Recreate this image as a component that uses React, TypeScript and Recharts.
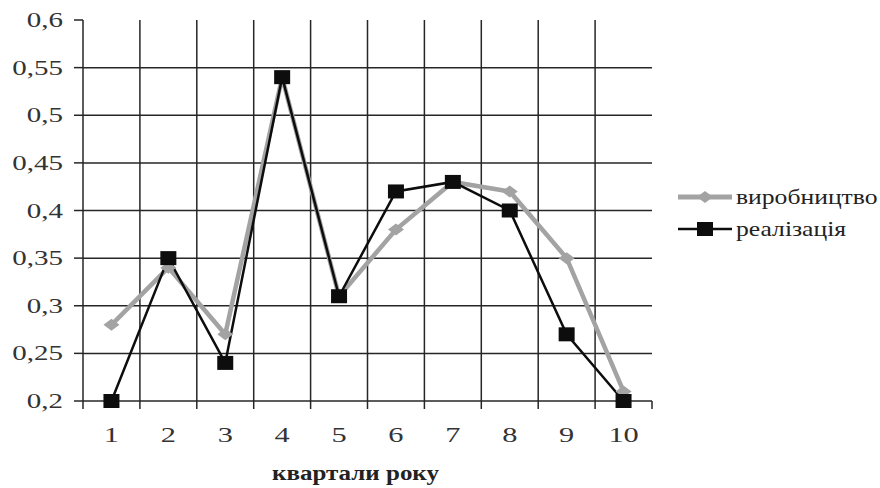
import { CartesianGrid, Legend, Line, LineChart, XAxis, YAxis } from 'recharts';

const quarters = [1, 2, 3, 4, 5, 6, 7, 8, 9, 10];
const vyrobnytstvo = [0.28, 0.34, 0.27, 0.54, 0.31, 0.38, 0.43, 0.42, 0.35, 0.21];
const realizatsiia = [0.2, 0.35, 0.24, 0.54, 0.31, 0.42, 0.43, 0.4, 0.27, 0.2];
const quarterBounds = [0.5, 1.5, 2.5, 3.5, 4.5, 5.5, 6.5, 7.5, 8.5, 9.5, 10.5];
const yTicks = [0.2, 0.25, 0.3, 0.35, 0.4, 0.45, 0.5, 0.55, 0.6];
const gridY = [0.25, 0.3, 0.35, 0.4, 0.45, 0.5, 0.55];
const gridX = [1.5, 2.5, 3.5, 4.5, 5.5, 6.5, 7.5, 8.5, 9.5];
const seriesNames = ['виробництво', 'реалізація'];
const axisTitle = 'квартали року';

const GRAY = '#a3a3a3';
const BLACK = '#0d0d0d';
const INK = '#262626';
const FONT = '"Liberation Serif", "Times New Roman", serif';

const data = quarters.map((q, i) => ({ q, vyr: vyrobnytstvo[i], real: realizatsiia[i] }));
const xTicks = [...quarterBounds, ...quarters].sort((a, b) => a - b);

// half-step ticks are the little marks under the axis, whole ones carry the labels
const XTick = ({ x, y, payload }: any) => {
  const v = payload.value;
  if (quarterBounds.includes(v)) {
    return <line x1={x} x2={x} y1={y} y2={y + 8} stroke={INK} strokeWidth={1.5} />;
  }
  return (
    <text
      transform={`translate(${x},${y + 41}) scale(1.38,1)`}
      textAnchor="middle"
      fontFamily={FONT}
      fontSize={22}
      fill="#333"
    >
      {v}
    </text>
  );
};

const YTick = ({ x, y, payload }: any) => (
  <text
    transform={`translate(${x},${y + 7}) scale(1.38,1)`}
    textAnchor="end"
    fontFamily={FONT}
    fontSize={21}
    fill="#333"
  >
    {String(payload.value).replace('.', ',')}
  </text>
);

const Diamond = ({ cx, cy }: any) => (
  <polygon
    points={`${cx - 8},${cy} ${cx},${cy - 6} ${cx + 8},${cy} ${cx},${cy + 6}`}
    fill={GRAY}
  />
);

const Square = ({ cx, cy }: any) => <rect x={cx - 8} y={cy - 7} width={16} height={14} fill={BLACK} />;

const AxisTitle = ({ viewBox }: any) => (
  <text
    transform={`translate(${viewBox.x + viewBox.width / 2 - 12},${viewBox.y + 79}) scale(1.25,1)`}
    textAnchor="middle"
    fontFamily={FONT}
    fontSize={20}
    fontWeight="bold"
    fill="#222"
  >
    {axisTitle}
  </text>
);

const LegendBox = () => (
  <div style={{ fontFamily: FONT, fontSize: 21, color: '#222' }}>
    {seriesNames.map((name, i) => (
      <div key={name} style={{ display: 'flex', alignItems: 'center', height: 32 }}>
        <svg width={56} height={20} style={{ flexShrink: 0 }}>
          {i === 0 ? (
            <>
              <line x1={0} x2={54} y1={10} y2={10} stroke={GRAY} strokeWidth={5} />
              <polygon points="19,10 27,4 35,10 27,16" fill={GRAY} />
            </>
          ) : (
            <>
              <line x1={0} x2={54} y1={10} y2={10} stroke={BLACK} strokeWidth={2.5} />
              <rect x={19} y={3} width={16} height={14} fill={BLACK} />
            </>
          )}
        </svg>
        <span style={{ display: 'inline-block', transform: 'scaleX(1.22)', transformOrigin: 'left center', marginLeft: 2 }}>
          {name}
        </span>
      </div>
    ))}
  </div>
);

export default function App() {
  return (
    <div style={{ position: 'absolute', left: 0, top: 0, width: 880, height: 488, background: '#fff' }}>
      <LineChart width={880} height={488} data={data} margin={{ top: 20, right: 228, bottom: 7, left: 0 }}>
        <CartesianGrid
          horizontalValues={gridY}
          verticalValues={gridX}
          stroke={INK}
          strokeWidth={1.5}
        />
        <XAxis
          dataKey="q"
          type="number"
          domain={[0.5, 10.5]}
          ticks={xTicks}
          interval={0}
          height={80}
          tickSize={0}
          tickMargin={0}
          tickLine={false}
          axisLine={{ stroke: INK, strokeWidth: 1.5 }}
          tick={<XTick />}
          label={<AxisTitle />}
        />
        <YAxis
          domain={[0.2, 0.6]}
          ticks={yTicks}
          interval={0}
          width={83}
          tickSize={9}
          tickMargin={11}
          tickLine={{ stroke: INK, strokeWidth: 1.5 }}
          axisLine={{ stroke: INK, strokeWidth: 1.5 }}
          tick={<YTick />}
        />
        <Legend
          layout="vertical"
          align="center"
          verticalAlign="middle"
          wrapperStyle={{ left: 678, top: 181, width: 200 }}
          content={<LegendBox />}
        />
        <Line
          dataKey="vyr"
          name={seriesNames[0]}
          stroke={GRAY}
          strokeWidth={4.5}
          dot={<Diamond />}
          activeDot={false}
          isAnimationActive={false}
        />
        <Line
          dataKey="real"
          name={seriesNames[1]}
          stroke={BLACK}
          strokeWidth={2.5}
          dot={<Square />}
          activeDot={false}
          isAnimationActive={false}
        />
      </LineChart>
    </div>
  );
}
